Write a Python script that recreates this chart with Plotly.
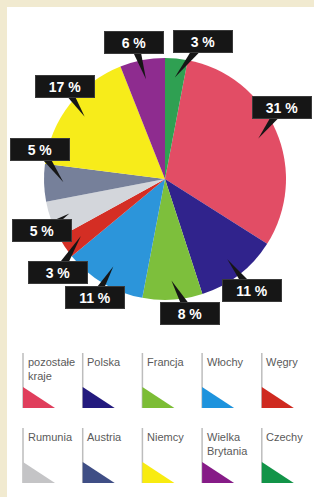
import math
import plotly.graph_objects as go

# ---- data ----
categories = ["pozostałe kraje", "Polska", "Francja", "Włochy", "Węgry",
              "Rumunia", "Austria", "Niemcy", "Wielka Brytania", "Czechy"]
shares = [31, 11, 8, 11, 3, 5, 5, 17, 6, 3]
pie_colors = ["#E24D65", "#30238C", "#7DBF3C", "#2C95DA", "#D42E24",
              "#D3D6DB", "#76809A", "#F7EC1A", "#8E2C8F", "#2FA052"]
legend_colors = ["#E03E5C", "#231A7E", "#7CBD35", "#1E93DD", "#CF2A20",
                 "#C4C4C6", "#3F4E85", "#F8EB10", "#861B87", "#129448"]

# ---- layout constants (pixels) ----
W, H = 314, 497
CX, CY, R = 165, 179, 121
# label placement nudges (degrees added to slice mid-angle, radius factor)
label_dang = [-8, 0, -7, 0, -7, -3, 15, 5, -2, 10]
label_rf = [1.13, 1.17, 1.13, 1.14, 1.17, 1.10, 1.06, 1.13, 1.16, 1.18]
tip_rf = 0.84

fig = go.Figure()

total = sum(shares)
start = 360.0 * shares[-1] / total  # last slice (Czechy) ends at 12 o'clock

fig.add_trace(go.Pie(
    labels=categories, values=shares, sort=False, direction="clockwise",
    rotation=start, textinfo="none", hoverinfo="label+percent",
    marker=dict(colors=pie_colors, line=dict(width=0)),
    domain=dict(x=[(CX - R) / W, (CX + R) / W],
                y=[1 - (CY + R) / H, 1 - (CY - R) / H]),
    showlegend=False,
))

shapes = []
annotations = []

# background beige frame strips
shapes.append(dict(type="rect", xref="x", yref="y", x0=0, x1=7, y0=0, y1=H,
                   fillcolor="#F1EAD0", line=dict(width=0), layer="below"))
shapes.append(dict(type="rect", xref="x", yref="y", x0=0, x1=W, y0=0, y1=7,
                   fillcolor="#F1EAD0", line=dict(width=0), layer="below"))

# callout labels
acc = start
for i, v in enumerate(shares):
    a0 = acc
    a1 = acc + 360.0 * v / total
    acc = a1
    mid = (a0 + a1) / 2
    tx = CX + tip_rf * R * math.sin(math.radians(mid))
    ty = CY - tip_rf * R * math.cos(math.radians(mid))
    la = mid + label_dang[i]
    lx = CX + label_rf[i] * R * math.sin(math.radians(la))
    ly = CY - label_rf[i] * R * math.cos(math.radians(la))
    # wedge pointer
    dx, dy = tx - lx, ty - ly
    d = math.hypot(dx, dy)
    px, py = -dy / d * 5, dx / d * 5
    shapes.append(dict(
        type="path", xref="x", yref="y",
        path=f"M {lx+px:.1f},{ly+py:.1f} L {lx-px:.1f},{ly-py:.1f} L {tx:.1f},{ty:.1f} Z",
        fillcolor="#161616", line=dict(width=0), layer="above"))
    annotations.append(dict(
        x=lx, y=ly, xref="x", yref="y", text=f"<b>{v} %</b>", showarrow=False,
        font=dict(family="Liberation Sans Narrow, Liberation Sans, Arial", size=14,
                  color="white"),
        bgcolor="#161616", bordercolor="#3a3a3a", borderwidth=1,
        width=56, height=19, borderpad=1, align="center", valign="middle"))

# custom legend
col_x0, col_dx = 23, 59.7
rows = [dict(top=353, tri_top=387, tri_bot=408),
        dict(top=428, tri_top=462, tri_bot=483)]
for i, name in enumerate(categories):
    r = rows[i // 5]
    x = col_x0 + (i % 5) * col_dx
    shapes.append(dict(type="line", xref="x", yref="y", x0=x, x1=x,
                       y0=r["top"], y1=r["tri_bot"],
                       line=dict(color="#BDBDBD", width=1.5)))
    shapes.append(dict(type="path", xref="x", yref="y",
                       path=f"M {x},{r['tri_top']} L {x},{r['tri_bot']} L {x+32},{r['tri_bot']} Z",
                       fillcolor=legend_colors[i], line=dict(width=0)))
    annotations.append(dict(
        x=x + 2.5, y=r["top"] + 1, xref="x", yref="y", xanchor="left", yanchor="top",
        text=name.replace(" ", "<br>"), showarrow=False, align="left",
        font=dict(family="Liberation Sans, Arial", size=11, color="#5a5a5a")))

fig.update_layout(
    width=W, height=H, margin=dict(l=0, r=0, t=0, b=0),
    paper_bgcolor="#FFFFFF", plot_bgcolor="rgba(0,0,0,0)",
    xaxis=dict(range=[0, W], visible=False, fixedrange=True, domain=[0, 1]),
    yaxis=dict(range=[H, 0], visible=False, fixedrange=True, domain=[0, 1]),
    shapes=shapes, annotations=annotations, showlegend=False,
)

fig.write_html(
    "out.html",
    config={"displayModeBar": False},
    post_script="document.body.style.margin='0';document.body.style.overflow='hidden';",
)
